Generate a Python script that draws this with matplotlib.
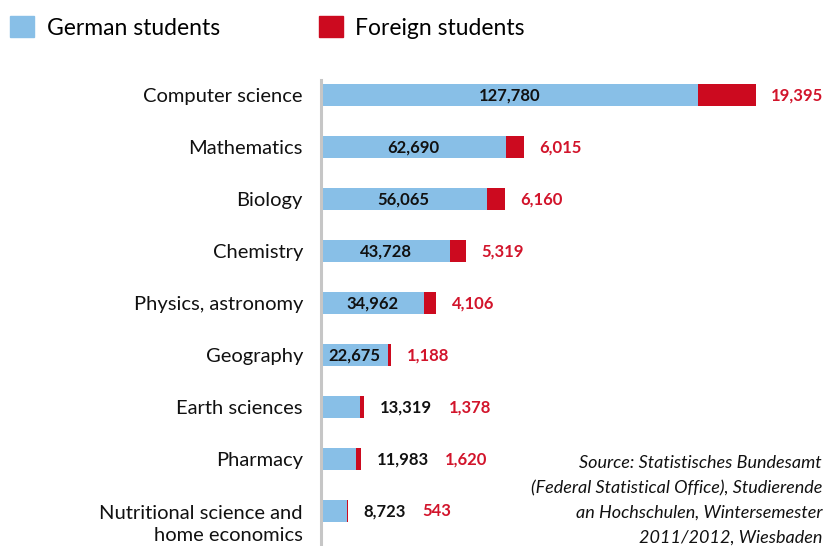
import matplotlib.pyplot as plt
from matplotlib.patches import Patch
from matplotlib.transforms import ScaledTranslation

plt.rcParams['font.family'] = ['Lato', 'DejaVu Sans']

categories = ['Computer science', 'Mathematics', 'Biology', 'Chemistry',
              'Physics, astronomy', 'Geography', 'Earth sciences', 'Pharmacy',
              'Nutritional science and\nhome economics']
german = [127780, 62690, 56065, 43728, 34962, 22675, 13319, 11983, 8723]
foreign = [19395, 6015, 6160, 5319, 4106, 1188, 1378, 1620, 543]
label_inside = [True, True, True, True, True, True, False, False, False]
source_lines = ['Source: Statistisches Bundesamt',
                '(Federal Statistical Office), Studierende',
                'an Hochschulen, Wintersemester',
                '2011/2012, Wiesbaden']

blue = '#88bfe7'
red = '#cc0a1f'
red_txt = '#d2142b'

fig = plt.figure(figsize=(8.26, 5.46), dpi=100)
ax = fig.add_axes([321 / 826, 0, 1 - 321 / 826, 1 - 80 / 546])

y = list(range(len(categories)))
ax.barh(y, german, height=0.42, color=blue)
ax.barh(y, foreign, left=german, height=0.42, color=red)

ax.set_xlim(0, 171000)
ax.set_ylim(8.67, -0.29)
for s in ['top', 'right', 'bottom']:
    ax.spines[s].set_visible(False)
ax.spines['left'].set_color('#c6c6c6')
ax.spines['left'].set_linewidth(2.2)
ax.set_xticks([])
ax.set_yticks(y)
ax.set_yticklabels(categories, fontsize=14.5, color='#111111', ha='right', linespacing=1.35)
ax.tick_params(axis='y', length=0, pad=13)
last = ax.get_yticklabels()[-1]
last.set_transform(last.get_transform() + ScaledTranslation(0, -7 / 72, fig.dpi_scale_trans))

fig.canvas.draw()
renderer = fig.canvas.get_renderer()
for i in y:
    total = german[i] + foreign[i]
    if label_inside[i]:
        ax.text(german[i] / 2, i, f'{german[i]:,}', ha='center', va='center',
                fontsize=12, fontweight='bold', color='#111111')
        ax.annotate(f'{foreign[i]:,}', (total, i), xytext=(11, 0), textcoords='offset points',
                    ha='left', va='center', fontsize=12, fontweight='bold', color=red_txt)
    else:
        t = ax.annotate(f'{german[i]:,}', (total, i), xytext=(11, 0), textcoords='offset points',
                        ha='left', va='center', fontsize=12, fontweight='bold', color='#111111')
        bb = t.get_window_extent(renderer)
        xr = ax.transData.inverted().transform((bb.x1, 0))[0]
        ax.annotate(f'{foreign[i]:,}', (xr, i), xytext=(12, 0), textcoords='offset points',
                    ha='left', va='center', fontsize=12, fontweight='bold', color=red_txt)

# source note, kept inside the figure
for k, line in enumerate(source_lines):
    fig.text(822 / 826, 1 - (463 + 25 * k) / 546, line, ha='right', va='center',
             fontsize=13, style='italic', color='#111111')

handles = [Patch(color=blue, label='German students'), Patch(color=red, label='Foreign students')]
fig.legend(handles=handles, loc='upper left', bbox_to_anchor=(1 / 826, 1 - 7 / 546), ncol=2,
           frameon=False, fontsize=16.5, handlelength=1.05, handleheight=1.05,
           handletextpad=0.55, columnspacing=4.3, borderaxespad=0)

fig.savefig('out.png', dpi=100)
